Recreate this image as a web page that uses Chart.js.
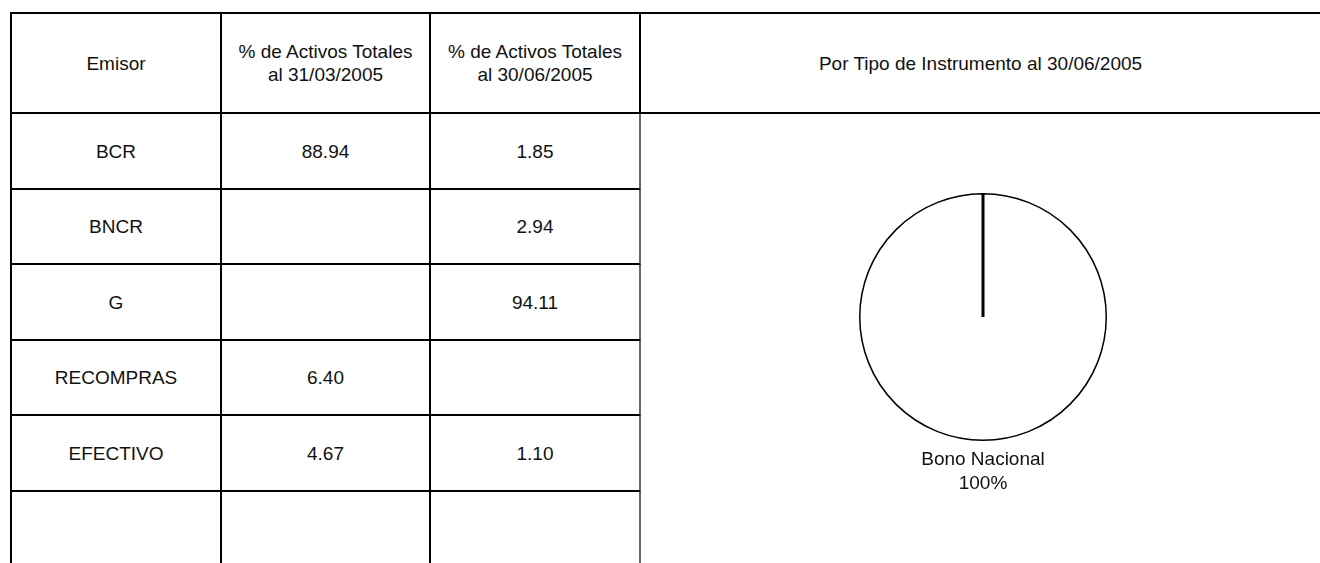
<!DOCTYPE html>
<html>
<head>
<meta charset="utf-8">
<script src="https://cdn.jsdelivr.net/npm/chart.js@4.4.1/dist/chart.umd.min.js"></script>
<style>
body { margin:0; background:#fff; width:1320px; height:563px; overflow:hidden; font-family:"Liberation Sans", Arial, sans-serif; }
.grid { position:absolute; left:10px; top:12px; width:1310px; height:620px; display:grid;
        grid-template-columns:210px 209px 210px 1fr; grid-template-rows:100px 76px 75px 76px 75px 76px 1fr;
        border-left:2px solid #000; border-top:2px solid #000; box-sizing:border-box; }
.cell { border-right:2px solid #000; border-bottom:2px solid #000; box-sizing:border-box;
        display:flex; align-items:center; justify-content:center; text-align:center;
        font-size:19px; line-height:23px; color:#111; white-space:pre-line; }
.cell.last { border-bottom:none; }
.cell.c3 { border-right:2px solid #666; }
.cell.h4 { border-right:none; }
.piecell { grid-column:4; grid-row:2 / 8; }
#chartbox { position:absolute; left:641px; top:114px; width:679px; height:449px; }
</style>
</head>
<body>
<div class="grid" id="grid"></div>
<div id="chartbox"><canvas id="myChart"></canvas></div>
<script>
// table data
const encabezados = ['Emisor', '% de Activos Totales\nal 31/03/2005', '% de Activos Totales\nal 30/06/2005', 'Por Tipo de Instrumento al 30/06/2005'];
const emisores = ['BCR', 'BNCR', 'G', 'RECOMPRAS', 'EFECTIVO', ''];
const activosMar2005 = [88.94, null, null, 6.40, 4.67, null];
const activosJun2005 = [1.85, 2.94, 94.11, null, 1.10, null];

// pie data
const instrumentos = ['Bono Nacional'];
const porcentajes = [100];

const grid = document.getElementById('grid');

function addCell(text, cls){
    const d = document.createElement('div');
    d.className = 'cell ' + (cls || '');
    d.textContent = text;
    grid.appendChild(d);
    return d;
}

encabezados.forEach(function(h, i){
    addCell(h, i === 3 ? 'h4' : '');
});

for(let i = 0; i < emisores.length; i++){
    const last = i === emisores.length - 1 ? 'last' : '';
    const fmt = function(v){ return v === null ? '' : v.toFixed(2); };
    const a = addCell(emisores[i], last);
    const b = addCell(fmt(activosMar2005[i]), last);
    const c = addCell(fmt(activosJun2005[i]), last + ' c3');
    a.style.gridRow = b.style.gridRow = c.style.gridRow = String(i + 2);
    a.style.gridColumn = '1'; b.style.gridColumn = '2'; c.style.gridColumn = '3';
}
const pc = document.createElement('div');
pc.className = 'piecell';
grid.appendChild(pc);

// thick radius line + label under the pie
const pieExtras = {
    id: 'pieExtras',
    afterDatasetsDraw(chart){
        const c = chart.ctx;
        const arc = chart.getDatasetMeta(0).data[0];
        const r = arc.outerRadius;
        c.save();
        c.strokeStyle = '#000';
        c.lineWidth = 3;
        c.beginPath();
        c.moveTo(arc.x, arc.y);
        c.lineTo(arc.x + r * Math.cos(arc.startAngle), arc.y + r * Math.sin(arc.startAngle));
        c.stroke();
        c.fillStyle = '#111';
        c.font = '19px "Liberation Sans", Arial, sans-serif';
        c.textAlign = 'center';
        c.textBaseline = 'middle';
        c.fillText(chart.data.labels[0], arc.x, arc.y + r + 20);
        c.fillText(chart.data.datasets[0].data[0] + '%', arc.x, arc.y + r + 44);
        c.restore();
    }
};

let ctx = document.getElementById('myChart').getContext('2d');
let myChart = new Chart(ctx, {
    type: 'pie',
    data: {
        labels: instrumentos,
        datasets: [{
            data: porcentajes,
            backgroundColor: ['#ffffff'],
            borderColor: ['#000000'],
            borderWidth: 1.5
        }]
    },
    options: {
        responsive: true,
        maintainAspectRatio: false,
        animation: false,
        layout: { padding: { left: 218, right: 213, top: 79, bottom: 122 } },
        plugins: { legend: { display: false }, tooltip: { enabled: false } }
    },
    plugins: [pieExtras]
});
</script>
</body>
</html>
